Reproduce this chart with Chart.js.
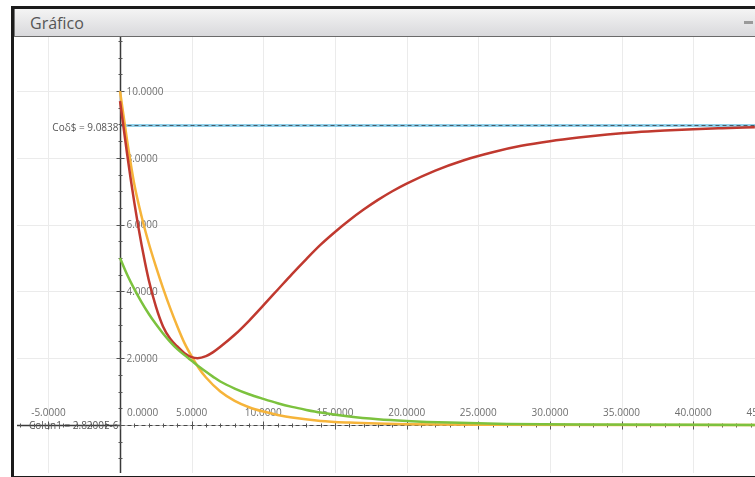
<!DOCTYPE html>
<html>
<head>
<meta charset="utf-8">
<script src="https://cdn.jsdelivr.net/npm/chart.js@4/dist/chart.umd.min.js"></script>
<style>
  html, body { margin: 0; padding: 0; background: #fff; overflow: hidden; }
  #frame {
    position: absolute; left: 11px; top: 6px; width: 760px; height: 467px;
    border: 3px solid #1b1b1b; border-right: none; background: #fff;
  }
  #titlebar {
    position: absolute; left: 0; top: 0; right: 0; height: 27px;
    background: linear-gradient(#f4f4f4, #d9d9dc);
    border-bottom: 1px solid #6a6a6a;
    border-left: 1px solid #777;
  }
  #titlebar span {
    position: absolute; left: 15px; top: 3px;
    font-family: "Open Sans", sans-serif; font-size: 16px; color: #555;
  }
  #minbtn {
    position: absolute; left: 729px; top: 12px; width: 9px; height: 3px; background: #9a9a9a;
  }
  #plot { position: absolute; left: 17px; top: 37px; }
</style>
</head>
<body>
<div id="frame">
  <div id="titlebar"><span>Gráfico</span><div id="minbtn"></div></div>
</div>
<canvas id="plot" width="738" height="436"></canvas>
<script>
/* values */
const redX = [0, 0.25, 0.5, 0.75, 1.0, 1.25, 1.5, 1.75, 2.0, 2.5, 3.0, 3.5, 4.0, 4.5, 5.0, 5.4, 6.0, 6.5, 7, 8, 9, 10, 11, 12, 13, 14, 15, 16, 17, 18, 19, 20, 22, 24, 26, 28, 30, 32, 34, 36, 38, 40, 42, 44.3];
const redY = [9.7, 8.9, 8.1, 7.35, 6.65, 6.0, 5.4, 4.85, 4.35, 3.55, 2.95, 2.58, 2.35, 2.15, 2.03, 2.0, 2.06, 2.18, 2.34, 2.7, 3.12, 3.58, 4.05, 4.52, 4.97, 5.4, 5.78, 6.13, 6.45, 6.74, 7.0, 7.23, 7.62, 7.93, 8.17, 8.36, 8.5, 8.61, 8.7, 8.77, 8.82, 8.86, 8.89, 8.92];

const orangeX = [0, 0.5, 1.0, 1.5, 2.0, 2.5, 3.0, 3.5, 4.0, 4.5, 5.0, 5.5, 6, 7, 8, 9, 10, 11, 12, 14, 16, 18, 20, 25, 44.3];
const orangeY = [10, 8.5, 7.2, 6.25, 5.45, 4.75, 4.1, 3.5, 2.95, 2.45, 2.05, 1.7, 1.42, 1.0, 0.72, 0.53, 0.4, 0.3, 0.22, 0.12, 0.07, 0.04, 0.02, 0.005, 0];

const greenX = [0, 0.5, 1, 1.5, 2, 2.5, 3, 3.5, 4, 4.5, 5, 5.5, 6, 6.5, 7, 8, 9, 10, 11, 12, 13, 14, 16, 18, 20, 23, 27, 32, 44.3];
const greenY = [5.0, 4.5, 4.07, 3.68, 3.33, 3.02, 2.74, 2.49, 2.27, 2.09, 1.92, 1.75, 1.59, 1.44, 1.3, 1.09, 0.92, 0.78, 0.65, 0.54, 0.45, 0.37, 0.25, 0.17, 0.12, 0.07, 0.03, 0.01, 0];

const refTop = 8.98;      // "Coδ$" line
const refBottom = 0;      // "Colun1" line
const refTopLabel = "Coδ$ = 9.0838";
const refBottomLabel = "Colun1 = 2.8200E-6";

const xGridVals = [-5, 5, 10, 15, 20, 25, 30, 35, 40, 45];
const yGridVals = [2, 4, 6, 8, 10];
const xTickLabels = ["-5.0000", "0.0000", "5.0000", "10.0000", "15.0000", "20.0000", "25.0000", "30.0000", "35.0000", "40.0000", "45.0000"];
const xTickVals = [-5, 0, 5, 10, 15, 20, 25, 30, 35, 40, 45];
const yTickLabels = ["2.0000", "4.0000", "6.0000", "8.0000", "10.0000"];

const X_MIN = -7.19, X_MAX = 44.31, Y_MIN = -1.44, Y_MAX = 11.62;

function pts(xs, ys) {
  return xs.map(function (x, i) { return { x: x, y: ys[i] }; });
}

const axesPlugin = {
  id: 'axesPlugin',
  beforeDatasetsDraw: function (chart) {
    const ctx = chart.ctx;
    const xs = chart.scales.x, ys = chart.scales.y;
    const area = chart.chartArea;
    const x0 = Math.round(xs.getPixelForValue(0)) + 0.5;
    const y0 = Math.round(ys.getPixelForValue(refBottom)) + 0.5;
    ctx.save();

    // grid
    ctx.strokeStyle = '#ebebeb';
    ctx.lineWidth = 1;
    xGridVals.forEach(function (v) {
      const p = Math.round(xs.getPixelForValue(v)) + 0.5;
      ctx.beginPath(); ctx.moveTo(p, area.top); ctx.lineTo(p, area.bottom); ctx.stroke();
    });
    yGridVals.forEach(function (v) {
      const p = Math.round(ys.getPixelForValue(v)) + 0.5;
      ctx.beginPath(); ctx.moveTo(area.left, p); ctx.lineTo(area.right, p); ctx.stroke();
    });

    // x axis: solid left of origin, light + dashed to the right
    ctx.strokeStyle = '#3a3a3a';
    ctx.lineWidth = 1.5;
    ctx.beginPath(); ctx.moveTo(area.left, y0); ctx.lineTo(x0, y0); ctx.stroke();
    ctx.strokeStyle = '#bbb';
    ctx.lineWidth = 1;
    ctx.beginPath(); ctx.moveTo(x0, y0); ctx.lineTo(area.right, y0); ctx.stroke();
    ctx.strokeStyle = '#444';
    ctx.setLineDash([4, 3]);
    ctx.beginPath(); ctx.moveTo(x0, y0); ctx.lineTo(area.right, y0); ctx.stroke();
    ctx.setLineDash([]);

    // top reference line: light blue band with dark dashes
    const yr = Math.round(ys.getPixelForValue(refTop)) + 0.5;
    ctx.strokeStyle = '#8fd0ea';
    ctx.lineWidth = 3;
    ctx.beginPath(); ctx.moveTo(x0, yr); ctx.lineTo(area.right, yr); ctx.stroke();
    ctx.strokeStyle = '#4a5a66';
    ctx.lineWidth = 1;
    ctx.setLineDash([4, 3]);
    ctx.beginPath(); ctx.moveTo(x0, yr); ctx.lineTo(area.right, yr); ctx.stroke();
    ctx.setLineDash([]);

    // y axis
    ctx.strokeStyle = '#3a3a3a';
    ctx.lineWidth = 1.5;
    ctx.beginPath(); ctx.moveTo(x0, area.top); ctx.lineTo(x0, area.bottom); ctx.stroke();

    // ticks
    ctx.lineWidth = 1;
    ctx.strokeStyle = '#555';
    for (let v = -7; v <= 44; v++) {
      const p = Math.round(xs.getPixelForValue(v)) + 0.5;
      const len = (v % 5 === 0) ? 4 : 2;
      ctx.beginPath(); ctx.moveTo(p, y0 - len); ctx.lineTo(p, y0 + len); ctx.stroke();
    }
    for (let v = -1; v <= 11.5; v += 0.5) {
      const p = Math.round(ys.getPixelForValue(v)) + 0.5;
      const len = (v % 2 === 0) ? 4 : 2;
      ctx.beginPath(); ctx.moveTo(x0 - len, p); ctx.lineTo(x0 + len, p); ctx.stroke();
    }

    // tick labels
    ctx.font = '10px "Open Sans", sans-serif';
    ctx.fillStyle = '#6e6e6e';
    ctx.textBaseline = 'middle';
    ctx.textAlign = 'left';
    yGridVals.forEach(function (v, i) {
      ctx.fillText(yTickLabels[i], x0 + 6, ys.getPixelForValue(v) + 1);
    });
    xTickVals.forEach(function (v, i) {
      const p = xs.getPixelForValue(v);
      if (v === 0) {
        ctx.textAlign = 'left';
        ctx.fillText(xTickLabels[i], p + 7, y0 - 12);
      } else {
        ctx.textAlign = 'center';
        ctx.fillText(xTickLabels[i], p, y0 - 12);
      }
    });

    // reference line labels
    ctx.textAlign = 'right';
    ctx.fillStyle = '#555';
    ctx.fillText(refTopLabel, x0 - 2, yr + 3);
    ctx.fillText(refBottomLabel, x0 - 2, y0 + 1);

    ctx.restore();
  }
};

const ctx = document.getElementById('plot').getContext('2d');
new Chart(ctx, {
  type: 'line',
  data: {
    datasets: [
      { data: pts(greenX, greenY), borderColor: '#7cc23e', borderWidth: 2.5, order: 1 },
      { data: pts(redX, redY), borderColor: '#c0392f', borderWidth: 2.5, order: 2 },
      { data: pts(orangeX, orangeY), borderColor: '#f6b43a', borderWidth: 2.5, order: 3 }
    ]
  },
  options: {
    responsive: false,
    animation: false,
    layout: { padding: 0 },
    elements: {
      point: { radius: 0 },
      line: { tension: 0, cubicInterpolationMode: 'monotone', fill: false }
    },
    scales: {
      x: { type: 'linear', min: X_MIN, max: X_MAX, display: false },
      y: { type: 'linear', min: Y_MIN, max: Y_MAX, display: false }
    },
    plugins: { legend: { display: false }, tooltip: { enabled: false } }
  },
  plugins: [axesPlugin]
});
</script>
</body>
</html>
